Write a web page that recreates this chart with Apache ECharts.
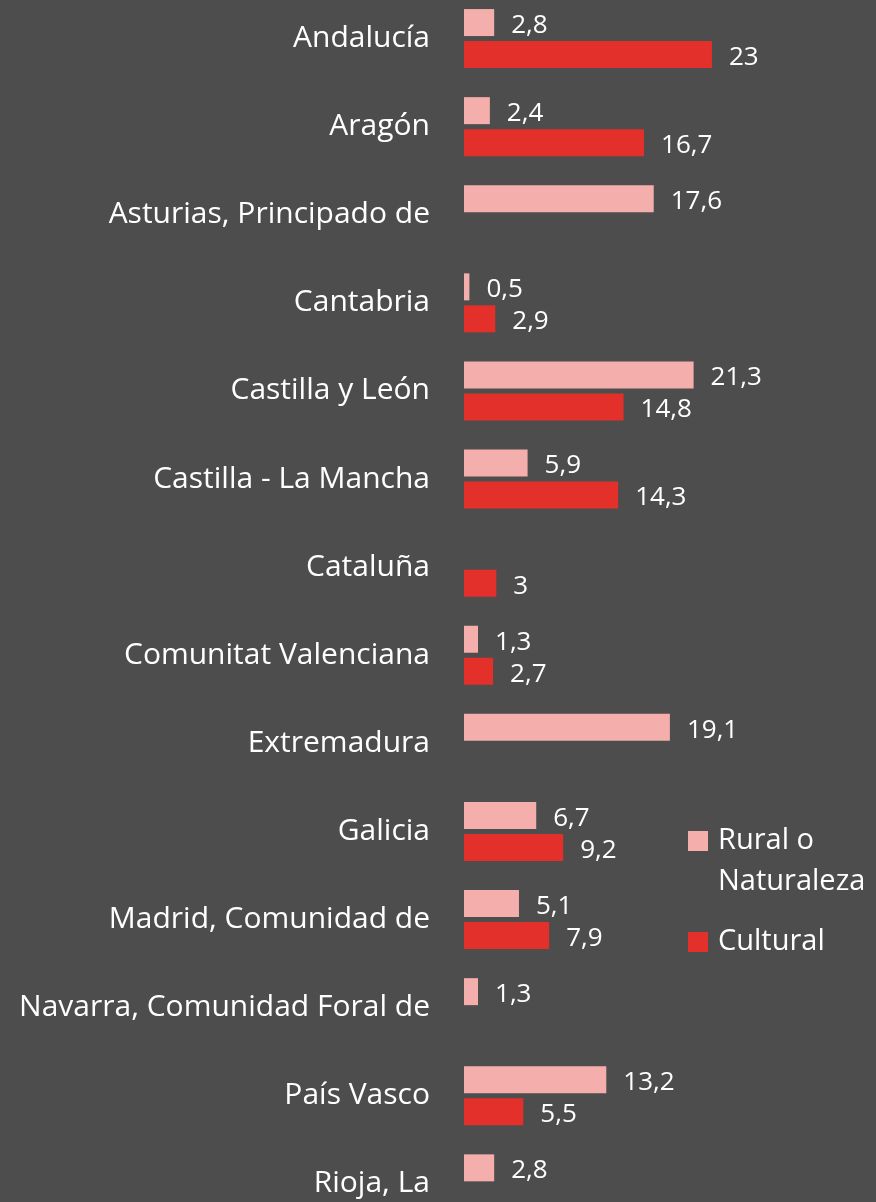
<!DOCTYPE html>
<html>
<head>
<meta charset="utf-8">
<script src="https://cdn.jsdelivr.net/npm/echarts@6/dist/echarts.min.js"></script>
<style>
html,body{margin:0;padding:0;background:#4d4d4d;overflow:hidden;width:876px;height:1202px;}
#chart{position:absolute;left:0;top:-6px;width:876px;height:1240px;}
</style>
</head>
<body>
<div id="chart"></div>
<script>
const categories = [
  'Andalucía', 'Aragón', 'Asturias, Principado de', 'Cantabria',
  'Castilla y León', 'Castilla - La Mancha', 'Cataluña',
  'Comunitat Valenciana', 'Extremadura', 'Galicia',
  'Madrid, Comunidad de', 'Navarra, Comunidad Foral de',
  'País Vasco', 'Rioja, La'
];
const ruralValues = [2.8, 2.4, 17.6, 0.5, 21.3, 5.9, null, 1.3, 19.1, 6.7, 5.1, 1.3, 13.2, 2.8];
const culturalValues = [23, 16.7, null, 2.9, 14.8, 14.3, 3, 2.7, null, 9.2, 7.9, null, 5.5, null];
const seriesNames = ['Rural o Naturaleza', 'Cultural'];

const FONT = '"Open Sans", "Noto Sans", sans-serif';
const fmt = p => String(p.value).replace('.', ',');

const chart = echarts.init(document.getElementById('chart'));
const labelCfg = {
  show: true, position: 'right', distance: 17, offset: [0, 3],
  color: '#ffffff', fontSize: 26, fontFamily: FONT, formatter: fmt
};
chart.setOption({
  backgroundColor: '#4d4d4d',
  animation: false,
  grid: { left: 464, top: 0.5, right: 0, height: 1233.4, containLabel: false },
  xAxis: { type: 'value', min: 0, max: 412 / 10.78, show: false },
  yAxis: {
    type: 'category', inverse: true, data: categories,
    axisLine: { show: false }, axisTick: { show: false }, splitLine: { show: false },
    axisLabel: { color: '#ffffff', fontSize: 30, fontFamily: FONT, margin: 34, padding: [4, 0, 0, 0] }
  },
  legend: [
    {
      data: [seriesNames[0]], orient: 'vertical', left: 688, top: 785.5, padding: 0,
      itemWidth: 20, itemHeight: 20, icon: 'rect', selectedMode: false,
      formatter: () => ' \nRural o\nNaturaleza',
      textStyle: { color: '#ffffff', fontSize: 29, fontFamily: FONT, lineHeight: 41, padding: [0, 0, 0, 5] }
    },
    {
      data: [seriesNames[1]], orient: 'vertical', left: 688, top: 927.5, padding: 0,
      itemWidth: 20, itemHeight: 20, icon: 'rect', selectedMode: false,
      textStyle: { color: '#ffffff', fontSize: 29, fontFamily: FONT, lineHeight: 41, padding: [0, 0, 0, 5] }
    }
  ],
  series: [
    {
      name: seriesNames[0], type: 'bar', data: ruralValues,
      barWidth: 27, barGap: '18.5%',
      itemStyle: { color: '#f4aeab' }, label: labelCfg
    },
    {
      name: seriesNames[1], type: 'bar', data: culturalValues,
      barWidth: 27, barGap: '18.5%',
      itemStyle: { color: '#e3302a' }, label: labelCfg
    }
  ]
});
</script>
</body>
</html>
